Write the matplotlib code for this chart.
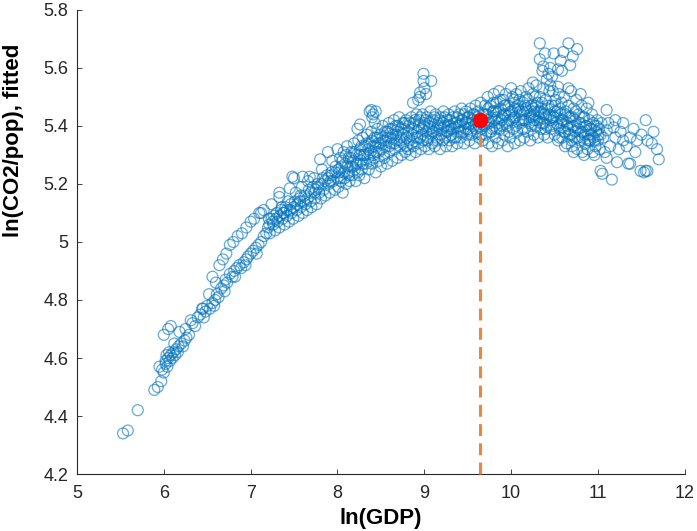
import numpy as np
import matplotlib
matplotlib.use("Agg")
import matplotlib.pyplot as plt

plt.rcParams['font.family'] = ['Liberation Sans Narrow', 'Liberation Sans', 'DejaVu Sans']

# (ln GDP, fitted ln CO2/pop) pairs
tail = [(5.53, 4.34), (5.585, 4.35), (5.70, 4.42), (5.89, 4.49), (5.93, 4.50), (5.97, 4.52),
        (6.00, 4.55), (5.95, 4.57), (5.98, 4.56), (6.02, 4.59), (6.05, 4.60), (6.08, 4.61),
        (6.11, 4.62), (6.14, 4.63), (6.17, 4.64), (6.20, 4.65), (6.00, 4.68), (6.05, 4.70),
        (6.08, 4.71), (6.18, 4.69), (6.25, 4.70), (6.31, 4.73), (6.02, 4.58), (6.04, 4.57),
        (6.07, 4.59), (6.10, 4.60), (6.13, 4.61), (6.16, 4.62), (6.22, 4.64), (6.26, 4.67),
        (6.29, 4.68), (6.24, 4.66), (6.06, 4.62), (6.12, 4.65), (6.03, 4.61)]

seg_a = [(6.33, 4.72), (6.36, 4.71), (6.39, 4.74), (6.42, 4.75), (6.45, 4.77), (6.48, 4.76),
         (6.50, 4.78), (6.53, 4.77), (6.56, 4.79), (6.59, 4.80), (6.61, 4.82), (6.63, 4.81),
         (6.66, 4.84), (6.69, 4.85), (6.71, 4.87), (6.73, 4.86), (6.76, 4.89), (6.79, 4.88),
         (6.81, 4.90), (6.84, 4.91), (6.87, 4.92), (6.89, 4.91), (6.92, 4.93), (6.95, 4.94),
         (6.97, 4.95), (7.00, 4.96), (7.03, 4.97), (7.06, 4.98), (7.09, 4.99), (7.12, 5.00),
         (7.15, 5.02), (7.18, 5.03), (6.46, 4.74), (6.58, 4.78), (6.70, 4.83), (6.82, 4.88),
         (6.94, 4.92), (7.07, 4.96), (6.52, 4.82), (6.56, 4.88), (6.60, 4.86), (6.64, 4.92),
         (6.68, 4.94), (6.72, 4.96), (6.76, 4.99), (6.80, 5.00), (6.85, 5.02), (6.90, 5.03),
         (6.95, 5.05), (7.00, 5.07), (7.04, 5.08), (7.10, 5.10), (7.15, 5.11), (6.44, 4.77)]

seg_b = [(7.20, 5.05), (7.22, 5.03), (7.24, 5.08), (7.26, 5.06), (7.28, 5.04), (7.30, 5.10),
         (7.31, 5.07), (7.33, 5.05), (7.35, 5.11), (7.37, 5.08), (7.39, 5.06), (7.40, 5.12),
         (7.42, 5.09), (7.44, 5.07), (7.46, 5.13), (7.47, 5.10), (7.49, 5.08), (7.51, 5.14),
         (7.53, 5.11), (7.55, 5.09), (7.56, 5.15), (7.58, 5.12), (7.60, 5.10), (7.62, 5.16),
         (7.63, 5.13), (7.65, 5.11), (7.67, 5.18), (7.69, 5.14), (7.70, 5.12), (7.72, 5.19),
         (7.74, 5.15), (7.76, 5.13), (7.77, 5.20), (7.79, 5.17), (7.81, 5.15), (7.83, 5.22),
         (7.84, 5.18), (7.86, 5.16), (7.88, 5.23), (7.90, 5.20), (7.91, 5.17), (7.93, 5.24),
         (7.95, 5.21), (7.97, 5.18), (7.98, 5.26), (8.00, 5.22), (7.27, 5.09), (7.36, 5.12),
         (7.43, 5.14), (7.52, 5.17), (7.59, 5.19), (7.66, 5.21), (7.73, 5.22), (7.82, 5.25),
         (7.94, 5.28), (7.21, 5.08), (7.38, 5.10), (7.57, 5.14), (7.75, 5.18), (7.92, 5.21),
         (7.24, 5.13), (7.33, 5.155), (7.33, 5.17), (7.45, 5.185), (7.50, 5.22), (7.60, 5.225),
         (7.68, 5.225), (7.80, 5.285), (7.89, 5.31), (8.00, 5.32), (7.12, 5.10), (7.48, 5.225)]

fill_b = [(7.215, 5.06), (7.255, 5.07), (7.295, 5.08), (7.335, 5.09), (7.375, 5.10), (7.415, 5.11),
          (7.455, 5.11), (7.495, 5.12), (7.535, 5.13), (7.575, 5.16), (7.615, 5.14), (7.655, 5.15),
          (7.695, 5.17), (7.735, 5.17), (7.775, 5.19), (7.815, 5.20), (7.855, 5.21), (7.895, 5.22),
          (7.935, 5.23), (7.975, 5.24)]

seg_c = [(8.01, 5.19), (8.02, 5.24), (8.03, 5.29), (8.04, 5.21), (8.05, 5.26), (8.06, 5.17),
         (8.07, 5.31), (8.08, 5.22), (8.09, 5.27), (8.10, 5.20), (8.11, 5.33), (8.12, 5.24),
         (8.13, 5.29), (8.14, 5.21), (8.15, 5.26), (8.16, 5.31), (8.17, 5.23), (8.18, 5.28),
         (8.19, 5.34), (8.20, 5.25), (8.21, 5.21), (8.22, 5.30), (8.23, 5.27), (8.24, 5.35),
         (8.25, 5.23), (8.26, 5.32), (8.27, 5.28), (8.28, 5.25), (8.29, 5.36), (8.30, 5.30),
         (8.31, 5.22), (8.32, 5.33), (8.33, 5.27), (8.34, 5.37), (8.35, 5.29), (8.36, 5.25),
         (8.37, 5.34), (8.38, 5.31), (8.39, 5.38), (8.40, 5.27), (8.41, 5.33), (8.42, 5.29),
         (8.43, 5.36), (8.44, 5.24), (8.45, 5.31), (8.46, 5.39), (8.47, 5.34), (8.48, 5.28),
         (8.49, 5.37), (8.50, 5.26), (8.51, 5.32), (8.52, 5.40), (8.53, 5.35), (8.54, 5.29),
         (8.55, 5.38), (8.56, 5.33), (8.57, 5.27), (8.58, 5.36), (8.59, 5.41), (8.60, 5.31),
         (8.61, 5.39), (8.62, 5.34), (8.63, 5.28), (8.64, 5.37), (8.65, 5.42), (8.66, 5.32),
         (8.67, 5.40), (8.68, 5.35), (8.69, 5.29), (8.70, 5.38), (8.71, 5.43), (8.72, 5.33),
         (8.73, 5.36), (8.74, 5.30), (8.75, 5.41), (8.76, 5.34), (8.77, 5.39), (8.78, 5.31),
         (8.79, 5.42), (8.80, 5.36), (8.23, 5.39), (8.26, 5.405), (8.37, 5.45), (8.39, 5.455),
         (8.41, 5.44), (8.43, 5.41), (8.40, 5.43), (8.44, 5.45)]

fill_c = [(8.015, 5.25), (8.035, 5.22), (8.055, 5.28), (8.075, 5.24), (8.095, 5.30), (8.115, 5.26),
          (8.135, 5.23), (8.155, 5.29), (8.175, 5.26), (8.195, 5.31), (8.215, 5.27), (8.235, 5.24),
          (8.255, 5.30), (8.275, 5.33), (8.295, 5.27), (8.315, 5.30), (8.335, 5.34), (8.355, 5.32),
          (8.375, 5.28), (8.395, 5.35), (8.415, 5.30), (8.435, 5.33), (8.455, 5.36), (8.475, 5.31),
          (8.495, 5.34), (8.515, 5.36), (8.535, 5.30), (8.555, 5.35), (8.575, 5.38), (8.595, 5.33),
          (8.615, 5.36), (8.635, 5.39), (8.655, 5.34), (8.675, 5.37), (8.695, 5.40), (8.715, 5.35),
          (8.735, 5.39), (8.755, 5.37), (8.775, 5.41), (8.795, 5.33)]

seg_d = [(8.81, 5.32), (8.82, 5.40), (8.83, 5.35), (8.84, 5.30), (8.85, 5.43), (8.86, 5.37),
         (8.87, 5.33), (8.88, 5.41), (8.89, 5.36), (8.90, 5.31), (8.91, 5.44), (8.92, 5.38),
         (8.93, 5.34), (8.94, 5.42), (8.95, 5.36), (8.96, 5.32), (8.97, 5.39), (8.98, 5.44),
         (8.99, 5.35), (9.00, 5.41), (9.01, 5.33), (9.02, 5.38), (9.03, 5.43), (9.04, 5.36),
         (9.05, 5.32), (9.06, 5.40), (9.07, 5.45), (9.08, 5.37), (9.09, 5.34), (9.10, 5.42),
         (9.11, 5.38), (9.12, 5.33), (9.13, 5.44), (9.14, 5.39), (9.15, 5.35), (9.16, 5.41),
         (9.17, 5.37), (9.18, 5.32), (9.19, 5.43), (9.20, 5.39), (9.21, 5.35), (9.22, 5.45),
         (9.23, 5.40), (9.24, 5.36), (9.25, 5.33), (9.26, 5.42), (9.27, 5.38), (9.28, 5.44),
         (9.29, 5.35), (9.30, 5.40), (9.31, 5.37), (9.32, 5.33), (9.33, 5.43), (9.34, 5.39),
         (9.35, 5.45), (9.36, 5.36), (9.37, 5.41), (9.38, 5.34), (9.39, 5.38), (9.40, 5.44),
         (9.41, 5.40), (9.42, 5.36), (9.43, 5.46), (9.44, 5.42), (9.45, 5.38), (9.46, 5.34),
         (9.47, 5.41), (9.48, 5.45), (9.49, 5.37), (9.50, 5.43), (9.51, 5.39), (9.52, 5.35),
         (9.53, 5.46), (9.54, 5.41), (9.55, 5.37), (9.56, 5.44), (9.57, 5.40), (9.58, 5.34),
         (9.59, 5.47), (9.60, 5.42), (9.61, 5.38), (9.62, 5.45), (9.63, 5.36), (9.64, 5.41),
         (9.65, 5.48), (9.66, 5.39), (9.67, 5.35), (9.68, 5.44), (9.69, 5.40), (9.70, 5.47),
         (8.99, 5.58), (8.99, 5.555), (9.08, 5.555), (8.95, 5.515), (8.95, 5.50), (8.87, 5.48),
         (9.00, 5.53), (9.02, 5.51), (8.93, 5.49)]

fill_d = [(8.815, 5.38), (8.835, 5.41), (8.855, 5.34), (8.875, 5.39), (8.895, 5.42), (8.915, 5.36),
          (8.935, 5.40), (8.955, 5.43), (8.975, 5.37), (8.995, 5.40), (9.015, 5.42), (9.035, 5.35),
          (9.055, 5.39), (9.075, 5.41), (9.095, 5.38), (9.115, 5.43), (9.135, 5.36), (9.155, 5.40),
          (9.175, 5.42), (9.195, 5.37), (9.215, 5.41), (9.235, 5.43), (9.255, 5.38), (9.275, 5.40),
          (9.295, 5.42), (9.315, 5.39), (9.335, 5.36), (9.355, 5.41), (9.375, 5.43), (9.395, 5.40),
          (9.415, 5.38), (9.435, 5.42), (9.455, 5.44), (9.475, 5.39), (9.495, 5.41), (9.515, 5.43),
          (9.535, 5.38), (9.555, 5.42), (9.575, 5.44), (9.595, 5.39), (9.615, 5.43), (9.635, 5.40),
          (9.655, 5.37), (9.675, 5.42), (9.695, 5.44)]

seg_e = [(9.71, 5.37), (9.72, 5.44), (9.73, 5.50), (9.74, 5.34), (9.75, 5.41), (9.76, 5.47),
         (9.77, 5.38), (9.78, 5.33), (9.79, 5.45), (9.80, 5.51), (9.81, 5.40), (9.82, 5.36),
         (9.83, 5.48), (9.84, 5.43), (9.85, 5.34), (9.86, 5.52), (9.87, 5.39), (9.88, 5.46),
         (9.89, 5.42), (9.90, 5.35), (9.91, 5.49), (9.92, 5.37), (9.93, 5.44), (9.94, 5.51),
         (9.95, 5.40), (9.96, 5.33), (9.97, 5.47), (9.98, 5.42), (9.99, 5.36), (10.00, 5.53),
         (10.01, 5.45), (10.02, 5.39), (10.03, 5.49), (10.04, 5.34), (10.05, 5.43), (10.06, 5.51),
         (10.07, 5.38), (10.08, 5.46), (10.09, 5.41), (10.10, 5.35), (10.11, 5.52), (10.12, 5.44),
         (10.13, 5.39), (10.14, 5.48), (10.15, 5.36), (10.16, 5.42), (10.17, 5.50), (10.18, 5.45),
         (10.19, 5.38), (10.20, 5.53), (10.21, 5.41), (10.22, 5.35), (10.23, 5.47), (10.24, 5.43),
         (10.25, 5.51), (10.26, 5.37), (10.27, 5.45), (10.28, 5.40), (10.29, 5.54), (10.30, 5.48),
         (10.31, 5.36), (10.32, 5.43), (10.33, 5.50), (10.34, 5.39), (10.35, 5.46), (10.36, 5.41),
         (10.37, 5.53), (10.38, 5.37), (10.39, 5.44), (10.40, 5.49), (10.41, 5.40), (10.42, 5.36),
         (10.43, 5.47), (10.44, 5.52), (10.45, 5.42), (9.74, 5.42), (9.80, 5.45), (9.86, 5.41),
         (9.92, 5.47), (9.98, 5.44), (10.04, 5.48), (10.10, 5.45), (10.16, 5.47), (10.22, 5.44),
         (10.28, 5.47), (10.34, 5.45), (10.40, 5.43), (9.78, 5.39), (9.90, 5.43), (10.02, 5.42),
         (10.14, 5.42), (10.26, 5.42), (10.38, 5.41)]

fill_e = [(9.715, 5.41), (9.735, 5.46), (9.755, 5.38), (9.775, 5.43), (9.795, 5.48), (9.815, 5.42),
          (9.835, 5.39), (9.855, 5.45), (9.875, 5.49), (9.895, 5.40), (9.915, 5.44), (9.935, 5.47),
          (9.955, 5.41), (9.975, 5.38), (9.995, 5.45), (10.015, 5.50), (10.035, 5.43), (10.055, 5.40),
          (10.075, 5.47), (10.095, 5.49), (10.115, 5.42), (10.135, 5.45), (10.155, 5.39), (10.175, 5.46),
          (10.195, 5.49), (10.215, 5.43), (10.235, 5.40), (10.255, 5.46), (10.275, 5.50), (10.295, 5.42),
          (10.315, 5.45), (10.335, 5.41), (10.355, 5.48), (10.375, 5.44), (10.395, 5.39), (10.415, 5.46),
          (10.435, 5.44), (9.825, 5.45), (10.045, 5.46), (10.265, 5.44)]

seg_f = [(10.46, 5.39), (10.47, 5.47), (10.48, 5.52), (10.49, 5.43), (10.50, 5.37), (10.51, 5.49),
         (10.52, 5.41), (10.53, 5.45), (10.54, 5.35), (10.55, 5.51), (10.56, 5.39), (10.57, 5.44),
         (10.58, 5.48), (10.59, 5.36), (10.60, 5.42), (10.61, 5.50), (10.62, 5.38), (10.63, 5.45),
         (10.64, 5.34), (10.65, 5.41), (10.66, 5.47), (10.67, 5.37), (10.68, 5.43), (10.69, 5.52),
         (10.70, 5.33), (10.71, 5.40), (10.72, 5.46), (10.73, 5.36), (10.74, 5.42), (10.75, 5.49),
         (10.76, 5.32), (10.77, 5.39), (10.78, 5.44), (10.79, 5.35), (10.80, 5.41), (10.81, 5.47),
         (10.82, 5.31), (10.83, 5.38), (10.84, 5.43), (10.85, 5.34), (10.86, 5.40), (10.87, 5.46),
         (10.88, 5.32), (10.89, 5.37), (10.90, 5.42), (10.91, 5.35), (10.92, 5.39), (10.93, 5.44),
         (10.94, 5.31), (10.95, 5.36), (10.96, 5.40), (10.97, 5.33), (10.98, 5.38), (10.99, 5.42),
         (11.00, 5.35), (11.01, 5.39), (11.02, 5.32), (11.03, 5.37), (11.04, 5.41), (10.50, 5.45),
         (10.58, 5.41), (10.66, 5.39), (10.74, 5.38), (10.82, 5.36), (10.90, 5.35), (10.62, 5.33),
         (10.72, 5.31), (10.84, 5.30), (10.96, 5.30)]

fill_f = [(10.465, 5.43), (10.485, 5.40), (10.505, 5.47), (10.525, 5.43), (10.545, 5.40), (10.565, 5.46),
          (10.585, 5.42), (10.605, 5.38), (10.625, 5.44), (10.645, 5.40), (10.665, 5.43), (10.685, 5.37),
          (10.705, 5.43), (10.725, 5.40), (10.745, 5.45), (10.765, 5.36), (10.785, 5.41), (10.805, 5.38),
          (10.825, 5.43), (10.845, 5.37), (10.865, 5.40), (10.885, 5.35), (10.905, 5.39), (10.925, 5.37),
          (10.945, 5.41), (10.965, 5.35), (10.985, 5.40), (11.005, 5.37), (10.555, 5.36), (10.695, 5.35)]

top_cluster = [(10.33, 5.685), (10.66, 5.685), (10.76, 5.665), (10.39, 5.65), (10.49, 5.65),
               (10.60, 5.655), (10.33, 5.63), (10.57, 5.625), (10.68, 5.61), (10.37, 5.605),
               (10.45, 5.60), (10.54, 5.595), (10.585, 5.59), (10.41, 5.56), (10.45, 5.54),
               (10.25, 5.55), (10.54, 5.535), (10.66, 5.53), (10.80, 5.51), (10.89, 5.48),
               (11.10, 5.455), (10.43, 5.58), (10.47, 5.57), (10.36, 5.59), (10.71, 5.64)]

right_tail = [(11.20, 5.42), (11.29, 5.41), (11.41, 5.39), (11.55, 5.42), (11.64, 5.38),
              (11.57, 5.35), (11.68, 5.32), (11.70, 5.285), (11.53, 5.24), (11.49, 5.245),
              (11.57, 5.245), (11.16, 5.215), (11.03, 5.245), (11.05, 5.235), (11.22, 5.275),
              (11.35, 5.27), (11.10, 5.29), (11.24, 5.32), (11.29, 5.35), (11.37, 5.36),
              (11.14, 5.33), (11.10, 5.385), (11.18, 5.395), (11.45, 5.35), (11.62, 5.34),
              (11.43, 5.31), (11.37, 5.27), (11.06, 5.36), (11.12, 5.41), (11.33, 5.33),
              (11.50, 5.37), (11.26, 5.38), (11.55, 5.245), (11.08, 5.31), (11.20, 5.36)]

# turning point of the fitted curve
peak_gdp = 9.64
peak_co2 = 5.42

x_ticks = [5, 6, 7, 8, 9, 10, 11, 12]
y_ticks = [4.2, 4.4, 4.6, 4.8, 5.0, 5.2, 5.4, 5.6, 5.8]
y_tick_labels = ['4.2', '4.4', '4.6', '4.8', '5', '5.2', '5.4', '5.6', '5.8']

pts = np.array(tail + seg_a + seg_b + fill_b + seg_c + fill_c + seg_d + fill_d
               + seg_e + fill_e + seg_f + fill_f + top_cluster + right_tail)
gdp, co2 = pts[:, 0], pts[:, 1]

fig = plt.figure(figsize=(6.97, 5.31), dpi=100)
ax = fig.add_axes([0.1105, 0.1073, 0.872, 0.874])

blue = '#0072BD'
ax.scatter(gdp, co2, s=62, facecolors='none', edgecolors=blue, linewidths=0.9, alpha=0.6, zorder=2)

ax.plot([peak_gdp, peak_gdp], [4.2, peak_co2], color='#EE8539', lw=2.2,
        dashes=(3.9, 2.4), zorder=3, clip_on=False)
ax.plot(peak_gdp, peak_co2, 'o', color='#FF0000', markersize=10, zorder=4)

ax.set_xlim(5, 12)
ax.set_ylim(4.2, 5.8)
ax.set_xticks(x_ticks)
ax.set_yticks(y_ticks)
ax.set_yticklabels(y_tick_labels)

for side in ['top', 'right']:
    ax.spines[side].set_visible(False)
for side in ['left', 'bottom']:
    ax.spines[side].set_color('#262626')
    ax.spines[side].set_linewidth(0.8)

ax.tick_params(direction='in', length=3.5, width=0.6, colors='#262626', labelsize=13)
ax.tick_params(axis='x', pad=8)
ax.tick_params(axis='y', pad=6)

ax.set_xlabel('ln(GDP)', fontsize=16, fontweight='bold', labelpad=4)
ax.set_ylabel('ln(CO2/pop), fitted', fontsize=16, fontweight='bold')
ax.yaxis.set_label_coords(-0.088, 0.72)

fig.savefig('out.png', dpi=100)
